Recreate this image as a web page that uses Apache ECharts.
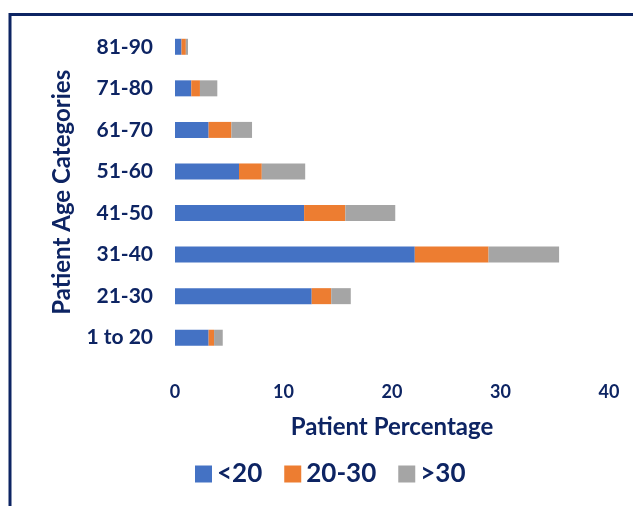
<!DOCTYPE html>
<html>
<head>
<meta charset="utf-8">
<script src="https://cdn.jsdelivr.net/npm/echarts@6/dist/echarts.min.js"></script>
<style>
  html, body { margin: 0; padding: 0; background: #fff; }
  #chart { width: 633px; height: 506px; }
</style>
</head>
<body>
<div id="chart"></div>
<script>
// age groups, bottom to top
var categories = ['1 to 20', '21-30', '31-40', '41-50', '51-60', '61-70', '71-80', '81-90']
var seriesNames = ['<20', '20-30', '>30']
var under20 = [3.1, 12.6, 22.1, 11.9, 5.9, 3.1, 1.5, 0.6]
var from20to30 = [0.5, 1.8, 6.8, 3.8, 2.1, 2.1, 0.8, 0.4]
var over30 = [0.8, 1.8, 6.5, 4.6, 4.0, 1.9, 1.6, 0.2]
var xTicks = [0, 10, 20, 30, 40]

var navy = '#0d2463'
var font = 'Lato'
var colors = ['#4472C4', '#ED7D31', '#A5A5A5']

var chart = echarts.init(document.getElementById('chart'))

function bar(name, data, color) {
  return {
    name: name,
    type: 'bar',
    stack: 'total',
    barWidth: 16,
    itemStyle: { color: color },
    data: data
  }
}

chart.setOption({
  animation: false,
  color: colors,
  graphic: [
    {
      type: 'rect',
      shape: { x: 10, y: 14.5, width: 700, height: 600 },
      style: { fill: 'none', stroke: navy, lineWidth: 3 },
      silent: true
    }
  ],
  grid: {
    left: 175,
    right: 24,
    top: 26,
    bottom: 147.5
  },
  legend: {
    left: 190,
    top: 456,
    itemWidth: 17,
    itemHeight: 17,
    itemGap: 22,
    icon: 'rect',
    textStyle: { color: navy, fontFamily: font, fontWeight: 'bold', fontSize: 26 },
    data: seriesNames
  },
  xAxis: {
    type: 'value',
    min: xTicks[0],
    max: xTicks[xTicks.length - 1],
    interval: 10,
    name: 'Patient Percentage',
    nameLocation: 'middle',
    nameGap: 57,
    nameTextStyle: { color: navy, fontFamily: font, fontWeight: 'bold', fontSize: 24 },
    axisLine: { show: false },
    axisTick: { show: false },
    splitLine: { show: false },
    axisLabel: { color: navy, fontFamily: font, fontWeight: 'bold', fontSize: 18, margin: 25 }
  },
  yAxis: {
    type: 'category',
    data: categories,
    name: 'Patient Age Categories',
    nameLocation: 'middle',
    nameGap: 101,
    nameTextStyle: { color: navy, fontFamily: font, fontWeight: 'bold', fontSize: 24 },
    axisLine: { show: false },
    axisTick: { show: false },
    axisLabel: { color: navy, fontFamily: font, fontWeight: 'bold', fontSize: 21, margin: 22 }
  },
  series: [
    bar(seriesNames[0], under20, colors[0]),
    bar(seriesNames[1], from20to30, colors[1]),
    bar(seriesNames[2], over30, colors[2])
  ]
})
</script>
</body>
</html>
